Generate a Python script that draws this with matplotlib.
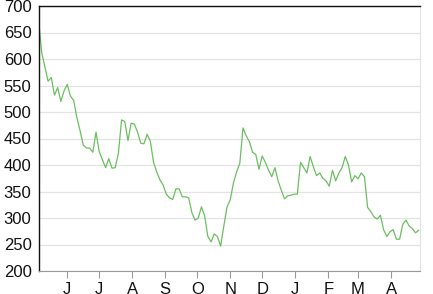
import numpy as np
import pandas as pd
import matplotlib
matplotlib.use("Agg")
import matplotlib.pyplot as plt
import matplotlib.dates as mdates

# price series, one value every 3 days from 2014-05-05
start_date = "2014-05-05"
step_days = 3
prices = [
    676, 612, 585, 558, 565, 532, 546, 520, 540, 552,
    530, 522, 490, 465, 438, 432, 432, 424, 462, 425,
    410, 395, 412, 394, 395, 422, 485, 482, 446, 479,
    477, 462, 441, 440, 458, 445, 405, 387, 372, 362,
    345, 338, 335, 355, 355, 340, 340, 338, 310, 296,
    300, 321, 304, 265, 255, 270, 265, 247, 285, 321,
    334, 366, 387, 403, 470, 455, 444, 424, 420, 392,
    417, 405, 390, 378, 395, 370, 352, 336, 342, 343,
    345, 345, 405, 395, 385, 416, 397, 380, 385, 375,
    370, 360, 390, 370, 385, 395, 416, 400, 368, 380,
    374, 385, 378, 320, 312, 302, 298, 305, 278, 265,
    274, 278, 260, 260, 288, 296, 285, 280, 272, 277,
]
y_ticks = [200, 250, 300, 350, 400, 450, 500, 550, 600, 650, 700]

dates = pd.date_range(start_date, periods=len(prices), freq=f"{step_days}D")

plt.rcParams["font.family"] = ["Liberation Sans", "DejaVu Sans"]

fig = plt.figure(figsize=(4.33, 2.94), dpi=100)
ax = fig.add_axes([38.5 / 433, 23 / 294, 381 / 433, 265 / 294])

ax.plot(dates, prices, color="#6bbf5f", lw=0.9)

ax.set_ylim(200, 700)
ax.set_yticks(y_ticks)
ax.yaxis.grid(True, color="#e3e3e3", lw=0.9)
ax.set_axisbelow(True)
ax.tick_params(axis="y", length=0, pad=5, labelsize=12, labelcolor="#111111")

x0 = pd.Timestamp(start_date)
ax.set_xlim(x0, x0 + pd.Timedelta(days=357.7))
ax.xaxis.set_major_locator(mdates.MonthLocator())
ax.xaxis.set_major_formatter(plt.FuncFormatter(lambda v, p: mdates.num2date(v).strftime("%b")[0]))
ax.tick_params(axis="x", length=5, width=0.8, color="#999999", pad=3, labelsize=12, labelcolor="#111111")

for s in ["left", "top"]:
    ax.spines[s].set_color("#111111")
    ax.spines[s].set_linewidth(1.0)
ax.spines["right"].set_color("#e3e3e3")
ax.spines["bottom"].set_color("#999999")
ax.spines["bottom"].set_linewidth(0.8)

fig.savefig("out.png", dpi=100)
